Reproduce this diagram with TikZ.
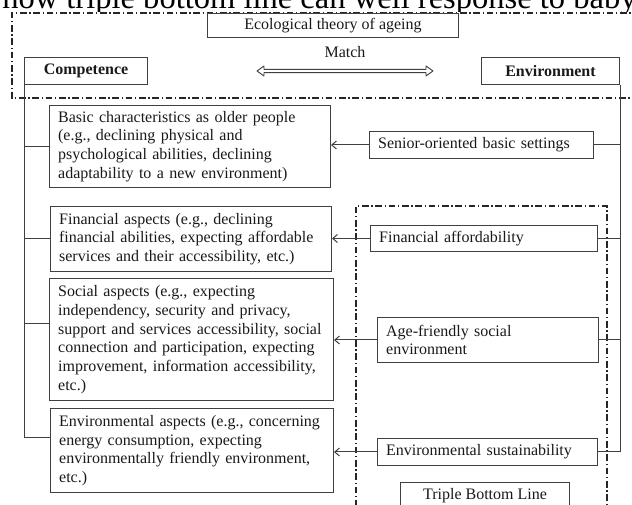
\documentclass[tikz,border=0pt]{standalone}
\usepackage{fontspec}
\setmainfont{Liberation Serif}
\usetikzlibrary{arrows.meta,positioning}

\tikzset{
  box/.style={draw=black!75, line width=0.75pt, rectangle, inner sep=0pt,
    anchor=north west, text=black!90, font=\fontsize{12}{14}\selectfont},
  textbox/.style={box, align=left, inner xsep=6.5pt},
  dashdot/.style={draw=black!85, line width=1pt,
    dash pattern=on 5pt off 2pt on 1pt off 2pt},
  link/.style={draw=black!75, line width=0.75pt},
  >={Straight Barb[length=3.5pt,width=6pt]}
}

\begin{document}
\begin{tikzpicture}[x=0.75pt,y=-0.75pt]
    \path[use as bounding box] (0,0) rectangle (632,505);
    \clip (0,0) rectangle (632,505);

    % Cut line of the page above
    \begin{scope}
        \clip (0,0) rectangle (632,12);
        \node[anchor=base west, inner sep=0pt, font=\fontsize{24.4}{28}\selectfont, text=black]
            (headline) at (2,9) {how triple bottom line can well response to baby};
    \end{scope}

    % Frames
    \draw[dashdot] (640,13) -- (12,13) -- (12,98) -- (640,98);
    \draw[dashdot] (356,520) -- (356,206) -- (607,206) -- (607,520);

    % Top row
    \node[box, minimum width=188.25pt, minimum height=18pt] (ecology) at (207,13)
        {Ecological theory of ageing};
    \node[box, minimum width=92.25pt, minimum height=20.25pt, font=\fontsize{12}{14}\selectfont\bfseries]
        (competence) at (24,57) {Competence};
    \node[box, minimum width=103.5pt, minimum height=20.25pt, font=\fontsize{12}{14}\selectfont\bfseries]
        (environment) at (481,57) {Environment};
    \node[text=black!90, font=\fontsize{12}{14}\selectfont] (match) at (345,52) {Match};
    \coordinate (matchL) at (257,71);
    \draw[link, line width=0.7pt, line join=round] (matchL) -- ++(7,-5) -- ++(0,3.3) -- ++(162,0)
        -- ++(0,-3.3) -- ++(7,5) -- ++(-7,5) -- ++(0,-3.3) -- ++(-162,0) -- ++(0,3.3) -- cycle;

    % Competence side
    \node[textbox, minimum width=210.75pt, minimum height=61.5pt, text width=197.75pt] (box1) at (49,105)
        {Basic characteristics as older people\\(e.g., declining physical and\\psychological abilities, declining\\adaptability to a new environment)};
    \node[textbox, minimum width=210.75pt, minimum height=48.75pt, text width=197.75pt] (box2) at (50,206)
        {Financial aspects (e.g., declining\\financial abilities, expecting affordable\\services and their accessibility, etc.)};
    \node[textbox, minimum width=213pt, minimum height=91.5pt, text width=200pt] (box3) at (49,278)
        {Social aspects (e.g., expecting\\independency, security and privacy,\\support and services accessibility, social\\connection and participation, expecting\\improvement, information accessibility,\\etc.)};
    \node[textbox, minimum width=212.25pt, minimum height=63pt, text width=199.25pt] (box4) at (50,408)
        {Environmental aspects (e.g., concerning\\energy consumption, expecting\\environmentally friendly environment,\\etc.)};

    % Environment side
    \node[textbox, minimum width=168pt, minimum height=20.25pt, text width=155pt] (senior) at (369,131)
        {Senior-oriented basic settings};
    \node[textbox, minimum width=170.25pt, minimum height=19.5pt, text width=157.25pt] (finance) at (370,225)
        {Financial affordability};
    \node[textbox, minimum width=165.75pt, minimum height=33.75pt, text width=152.75pt] (social) at (377,317)
        {Age-friendly social\\environment};
    \node[textbox, minimum width=165pt, minimum height=20.25pt, text width=152pt] (sustain) at (377,438)
        {Environmental sustainability};
    \node[box, minimum width=126.75pt, minimum height=19.5pt] (tbl) at (400,482)
        {Triple Bottom Line};

    % Left spine
    \coordinate (box3in) at ([yshift=12pt]box3.west);
    \coordinate (box4in) at ([yshift=9.75pt]box4.west);
    \draw[link] (competence.south west) -- (competence.south west |- box4in) -- (box4in);
    \foreach \b in {box1,box2,box3in}
        \draw[link] (competence.south west |- \b) -- (\b);

    % Right spine
    \draw[link] (environment.south east) -- (environment.south east |- sustain.east) -- (sustain.east);
    \foreach \b in {senior,finance,social}
        \draw[link] (\b.east) -- (environment.south east |- \b.east);

    % Arrows
    \foreach \a/\b in {senior/box1, finance/box2, social/box3, sustain/box4}
        \draw[link,->] (\a.west) -- (\b.east |- \a.west);
\end{tikzpicture}
\end{document}
